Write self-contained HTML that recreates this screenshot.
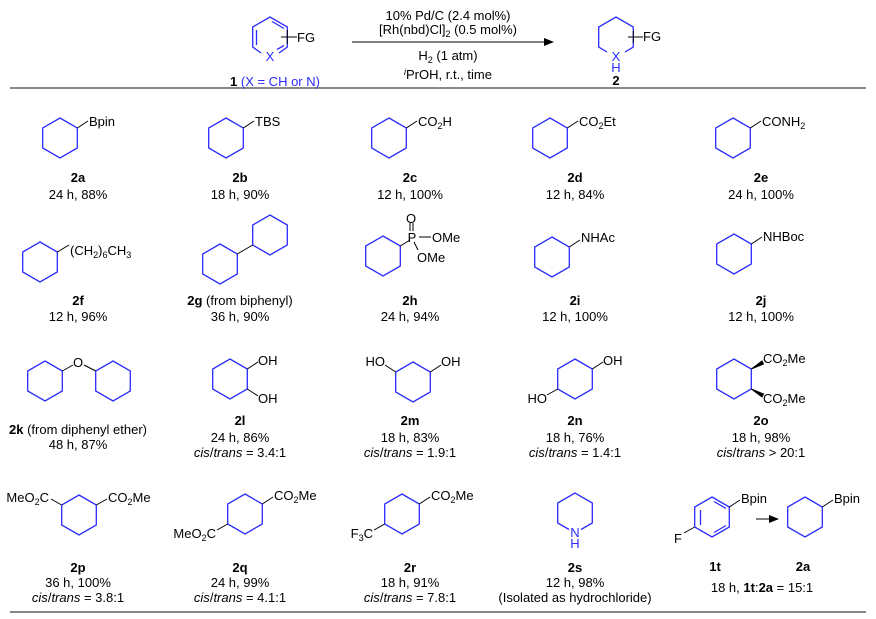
<!DOCTYPE html>
<html><head><meta charset="utf-8"><style>
html,body{margin:0;padding:0;background:#fff;}
svg{display:block;}
text{font-family:"Liberation Sans",Arial,sans-serif;font-size:13px;fill:#000;}
.b{font-weight:bold;}
.bl{fill:#2b2bff;}
.m{text-anchor:middle;}
.e{text-anchor:end;}
.s{font-size:9px;}
</style></head><body>
<svg width="876" height="619" viewBox="0 0 876 619" xmlns="http://www.w3.org/2000/svg">
<defs>
<polygon id="h" points="0,-20 17.3,-10 17.3,10 0,20 -17.3,10 -17.3,-10" fill="none" stroke="#2b2bff" stroke-width="1.3"/>
<marker id="ar" markerWidth="10" markerHeight="8" refX="9" refY="4" orient="auto" markerUnits="userSpaceOnUse"><path d="M0,0 L10,4 L0,8 z" fill="#000"/></marker>
</defs>
<g stroke="#000" stroke-width="1" fill="none">
<!-- header ring 1 -->
<polyline points="261,53 252.7,47 252.7,27 270,17 287.3,27 287.3,47 279,53" stroke="#2b2bff" stroke-width="1.3"/>
<line x1="256.5" y1="30" x2="256.5" y2="45" stroke="#2b2bff" stroke-width="1.3"/>
<line x1="272" y1="21.5" x2="284" y2="28.5" stroke="#2b2bff" stroke-width="1.3"/>
<line x1="284" y1="45.5" x2="277" y2="49.5" stroke="#2b2bff" stroke-width="1.3"/>
<line x1="281" y1="37" x2="297" y2="37"/>
<line x1="287.3" y1="30" x2="287.3" y2="44" stroke="#000"/>
<line x1="352" y1="42" x2="553" y2="42" marker-end="url(#ar)"/>
<!-- header ring 2 -->
<polyline points="607,52 598.7,47 598.7,27 616,17 633.3,27 633.3,47 625,52" stroke="#2b2bff" stroke-width="1.3"/>
<line x1="628" y1="37" x2="643" y2="37"/>
<line x1="633.3" y1="31" x2="633.3" y2="43"/>
<line x1="10" y1="88" x2="866" y2="88" stroke="#888" stroke-width="2"/>
<line x1="10" y1="612" x2="866" y2="612" stroke="#888" stroke-width="2"/>

<!-- row1 -->
<use href="#h" x="60" y="138"/><line x1="77.3" y1="128" x2="88" y2="121"/>
<use href="#h" x="226" y="138"/><line x1="243.3" y1="128" x2="254" y2="121"/>
<use href="#h" x="389" y="138"/><line x1="406.3" y1="128" x2="417" y2="121"/>
<use href="#h" x="550" y="138"/><line x1="567.3" y1="128" x2="578" y2="121"/>
<use href="#h" x="733" y="138"/><line x1="750.3" y1="128" x2="761" y2="121"/>
<!-- row2 -->
<use href="#h" x="40" y="262"/><line x1="57.3" y1="252" x2="69" y2="245"/>
<use href="#h" x="220" y="264"/><use href="#h" x="270" y="235"/><line x1="237.3" y1="254" x2="252.7" y2="245"/>
<use href="#h" x="383" y="256"/><line x1="400.3" y1="246" x2="410" y2="240"/>
<line x1="410" y1="223" x2="410" y2="231"/><line x1="413" y1="223" x2="413" y2="231"/>
<line x1="419" y1="237" x2="431" y2="237"/><line x1="414" y1="242" x2="418" y2="250"/>
<use href="#h" x="552" y="257"/><line x1="569.3" y1="247" x2="580" y2="240"/>
<use href="#h" x="734" y="254"/><line x1="751.3" y1="244" x2="762" y2="237"/>
<!-- row3 -->
<use href="#h" x="45" y="381"/><use href="#h" x="113" y="381"/>
<line x1="62.3" y1="371" x2="73" y2="365"/><line x1="84" y1="365" x2="95.7" y2="371"/>
<use href="#h" x="230" y="379"/><line x1="247.3" y1="369" x2="258" y2="362"/><line x1="247.3" y1="389" x2="258" y2="396"/>
<use href="#h" x="413" y="382"/><line x1="395.7" y1="372" x2="385" y2="365"/><line x1="430.3" y1="372" x2="441" y2="365"/>
<use href="#h" x="575" y="379"/><line x1="592.3" y1="369" x2="603" y2="362"/><line x1="557.7" y1="389" x2="547" y2="395"/>
<use href="#h" x="734" y="379"/>
<polygon points="751.3,369 762,361 763.5,364" fill="#000"/>
<polygon points="751.3,389 762,397 763.5,394" fill="#000"/>
<!-- row4 -->
<use href="#h" x="79" y="515"/><line x1="61.7" y1="505" x2="51" y2="499"/><line x1="96.3" y1="505" x2="107" y2="499"/>
<use href="#h" x="245" y="514"/><line x1="262.3" y1="504" x2="273" y2="497"/><line x1="227.7" y1="524" x2="217" y2="530"/>
<use href="#h" x="402" y="514"/><line x1="419.3" y1="504" x2="430" y2="497"/><line x1="384.7" y1="524" x2="374" y2="530"/>
<polyline points="569,529.5 557.7,523 557.7,503 575,493 592.3,503 592.3,523 581,529.5" stroke="#2b2bff" stroke-width="1.3"/>
<use href="#h" x="712" y="517"/>
<line x1="700.5" y1="510" x2="700.5" y2="525" stroke="#2b2bff" stroke-width="1.3"/>
<line x1="714" y1="501.5" x2="726" y2="508.5" stroke="#2b2bff" stroke-width="1.3"/>
<line x1="726" y1="525.5" x2="714" y2="532.5" stroke="#2b2bff" stroke-width="1.3"/>
<line x1="729.3" y1="507" x2="740" y2="500"/><line x1="694.7" y1="527" x2="684" y2="533"/>
<line x1="756" y1="519" x2="778" y2="519" marker-end="url(#ar)"/>
<use href="#h" x="805" y="517"/><line x1="822.3" y1="507" x2="833" y2="500"/>
</g>

<!-- header text -->
<text x="270" y="61" class="bl m">X</text>
<text x="297" y="42">FG</text>
<text x="275" y="86" class="m"><tspan class="b">1</tspan><tspan class="bl"> (X = CH or N)</tspan></text>
<text x="448" y="20" class="m">10% Pd/C (2.4 mol%)</text>
<text x="448" y="34" class="m">[Rh(nbd)Cl]<tspan class="s" dy="3">2</tspan><tspan dy="-3"> (0.5 mol%)</tspan></text>
<text x="448" y="60" class="m">H<tspan class="s" dy="3">2</tspan><tspan dy="-3"> (1 atm)</tspan></text>
<text x="448" y="79" class="m"><tspan class="s" dy="-4" font-style="italic">i</tspan><tspan dy="4">PrOH, r.t., time</tspan></text>
<text x="616" y="61" class="bl m">X</text>
<text x="616" y="72" class="bl m">H</text>
<text x="643" y="41">FG</text>
<text x="616" y="85" class="b m">2</text>

<!-- row1 text -->
<text x="89" y="126">Bpin</text>
<text x="255" y="126">TBS</text>
<text x="418" y="126">CO<tspan class="s" dy="3">2</tspan><tspan dy="-3">H</tspan></text>
<text x="579" y="126">CO<tspan class="s" dy="3">2</tspan><tspan dy="-3">Et</tspan></text>
<text x="762" y="126">CONH<tspan class="s" dy="3">2</tspan></text>
<text x="78" y="182" class="m b">2a</text><text x="78" y="199" class="m">24 h, 88%</text>
<text x="240" y="182" class="m b">2b</text><text x="240" y="199" class="m">18 h, 90%</text>
<text x="410" y="182" class="m b">2c</text><text x="410" y="199" class="m">12 h, 100%</text>
<text x="575" y="182" class="m b">2d</text><text x="575" y="199" class="m">12 h, 84%</text>
<text x="761" y="182" class="m b">2e</text><text x="761" y="199" class="m">24 h, 100%</text>

<!-- row2 text -->
<text x="70" y="255">(CH<tspan class="s" dy="3">2</tspan><tspan dy="-3">)</tspan><tspan class="s" dy="3">6</tspan><tspan dy="-3">CH</tspan><tspan class="s" dy="3">3</tspan></text>
<text x="411" y="223" class="m">O</text>
<text x="412" y="242" class="m">P</text>
<text x="432" y="242">OMe</text>
<text x="417" y="262">OMe</text>
<text x="581" y="242">NHAc</text>
<text x="763" y="241">NHBoc</text>
<text x="78" y="305" class="m b">2f</text><text x="78" y="321" class="m">12 h, 96%</text>
<text x="240" y="305" class="m"><tspan class="b">2g</tspan> (from biphenyl)</text><text x="240" y="321" class="m">36 h, 90%</text>
<text x="410" y="305" class="m b">2h</text><text x="410" y="321" class="m">24 h, 94%</text>
<text x="575" y="305" class="m b">2i</text><text x="575" y="321" class="m">12 h, 100%</text>
<text x="761" y="305" class="m b">2j</text><text x="761" y="321" class="m">12 h, 100%</text>

<!-- row3 text -->
<text x="78" y="367" class="m">O</text>
<text x="258" y="365">OH</text><text x="258" y="403">OH</text>
<text x="385" y="366" class="e">HO</text><text x="441" y="366">OH</text>
<text x="603" y="365">OH</text><text x="547" y="403" class="e">HO</text>
<text x="763" y="363">CO<tspan class="s" dy="3">2</tspan><tspan dy="-3">Me</tspan></text>
<text x="763" y="403">CO<tspan class="s" dy="3">2</tspan><tspan dy="-3">Me</tspan></text>
<text x="78" y="434" class="m"><tspan class="b">2k</tspan> (from diphenyl ether)</text><text x="78" y="449" class="m">48 h, 87%</text>
<text x="240" y="425" class="m b">2l</text><text x="240" y="442" class="m">24 h, 86%</text><text x="240" y="457" class="m"><tspan font-style="italic">cis</tspan>/<tspan font-style="italic">trans</tspan> = 3.4:1</text>
<text x="410" y="425" class="m b">2m</text><text x="410" y="442" class="m">18 h, 83%</text><text x="410" y="457" class="m"><tspan font-style="italic">cis</tspan>/<tspan font-style="italic">trans</tspan> = 1.9:1</text>
<text x="575" y="425" class="m b">2n</text><text x="575" y="442" class="m">18 h, 76%</text><text x="575" y="457" class="m"><tspan font-style="italic">cis</tspan>/<tspan font-style="italic">trans</tspan> = 1.4:1</text>
<text x="761" y="425" class="m b">2o</text><text x="761" y="442" class="m">18 h, 98%</text><text x="761" y="457" class="m"><tspan font-style="italic">cis</tspan>/<tspan font-style="italic">trans</tspan> &gt; 20:1</text>

<!-- row4 text -->
<text x="49" y="502" class="e">MeO<tspan class="s" dy="3">2</tspan><tspan dy="-3">C</tspan></text>
<text x="108" y="502">CO<tspan class="s" dy="3">2</tspan><tspan dy="-3">Me</tspan></text>
<text x="274" y="500">CO<tspan class="s" dy="3">2</tspan><tspan dy="-3">Me</tspan></text>
<text x="216" y="538" class="e">MeO<tspan class="s" dy="3">2</tspan><tspan dy="-3">C</tspan></text>
<text x="431" y="500">CO<tspan class="s" dy="3">2</tspan><tspan dy="-3">Me</tspan></text>
<text x="373" y="538" class="e">F<tspan class="s" dy="3">3</tspan><tspan dy="-3">C</tspan></text>
<text x="575" y="537" class="m bl">N</text><text x="575" y="548" class="m bl">H</text>
<text x="741" y="503">Bpin</text>
<text x="678" y="543" class="m">F</text>
<text x="834" y="503">Bpin</text>
<text x="78" y="572" class="m b">2p</text><text x="78" y="587" class="m">36 h, 100%</text><text x="78" y="602" class="m"><tspan font-style="italic">cis</tspan>/<tspan font-style="italic">trans</tspan> = 3.8:1</text>
<text x="240" y="572" class="m b">2q</text><text x="240" y="587" class="m">24 h, 99%</text><text x="240" y="602" class="m"><tspan font-style="italic">cis</tspan>/<tspan font-style="italic">trans</tspan> = 4.1:1</text>
<text x="410" y="572" class="m b">2r</text><text x="410" y="587" class="m">18 h, 91%</text><text x="410" y="602" class="m"><tspan font-style="italic">cis</tspan>/<tspan font-style="italic">trans</tspan> = 7.8:1</text>
<text x="575" y="572" class="m b">2s</text><text x="575" y="587" class="m">12 h, 98%</text><text x="575" y="602" class="m">(Isolated as hydrochloride)</text>
<text x="715" y="571" class="m b">1t</text><text x="803" y="571" class="m b">2a</text>
<text x="762" y="592" class="m">18 h, <tspan class="b">1t</tspan>:<tspan class="b">2a</tspan> = 15:1</text>
</svg>
</body></html>
